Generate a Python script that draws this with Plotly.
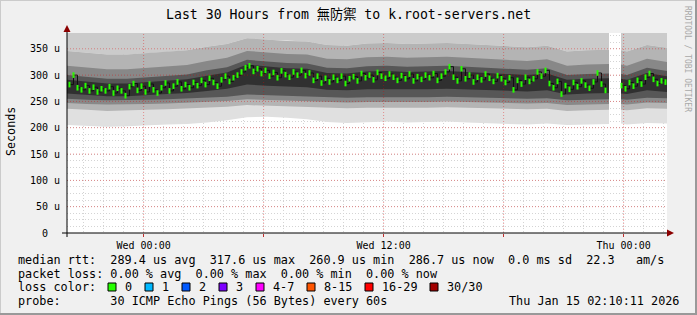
import pandas as pd
import plotly.graph_objects as go

# ---------------- data ----------------
TITLE = "Last 30 Hours from 無防禦 to k.root-servers.net"
END = pd.Timestamp("2026-01-15 02:10:11")
START = END - pd.Timedelta(hours=30)
Y_MAX = 380

# median rtt (microseconds), one value every 12 min (None = no data)
median_us = [
    282, 300, 276, 272, 280, 270, 277, 268, 274, 270,
    278, 266, 275, 270, 260.9, 278, 284, 271, 279, 268,
    283, 272, 266, 276, 285, 270, 279, 287, 274, 282,
    276, 286, 280, 290, 282, 294, 286, 279, 291, 298,
    288, 295, 300, 306, 314, 317.6, 307, 312, 303, 309,
    298, 305, 295, 308, 301, 296, 306, 300, 309, 299,
    304, 290, 298, 285, 294, 287, 296, 290, 298, 284,
    293, 297, 289, 303, 295, 300, 291, 305, 298, 294,
    302, 296, 290, 299, 293, 302, 289, 297, 292, 300,
    295, 303, 290, 298, 306, 316, 296, 289, 312, 293,
    300, 287, 296, 291, 302, 294, 288, 299, 293, 286,
    295, 272, 290, 283, 296, 288, 293, 306, 298, 309,
    284, 276, 288, 264, 280, 273, 286, 278, 289, 281,
    275, 287, 304, 283, 271, None, None, None, 280, 274,
    286, 279, 290, 283, 296, 303, 292, 284, 289, 286.7,
]

# smoke: sorted-ping levels (microseconds) sampled per hour (gap 27.1h-27.7h)
smoke_hours = [0, 1, 2, 3, 4, 5, 6, 7, 8, 9, 10, 11, 12, 13, 14, 15, 16, 17, 18,
               19, 20, 21, 22, 23, 24, 25, 26, 27, 27.1, 27.7, 28, 29, 30]
ping01 = [205, 203, 202, 203, 204, 206, 207, 210, 214, 220, 221, 219, 216, 211, 209, 210, 212,
          210, 211, 212, 210, 208, 207, 206, 208, 205, 206, 207, 207, 208, 206, 209, 208]
ping04 = [236, 234, 232, 233, 234, 235, 236, 238, 240, 243, 242, 241, 240, 238, 237, 238, 239,
          238, 238, 239, 238, 237, 236, 235, 236, 232, 233, 234, 234, 234, 233, 237, 236]
ping08 = [247, 245, 244, 244, 245, 246, 247, 249, 251, 254, 253, 252, 251, 249, 248, 249, 250,
          249, 249, 250, 249, 248, 247, 246, 247, 243, 244, 245, 245, 245, 244, 248, 247]
ping12 = [255, 253, 252, 252, 253, 254, 255, 257, 259, 263, 262, 261, 260, 258, 257, 258, 259,
          258, 258, 259, 258, 257, 256, 255, 256, 252, 253, 254, 254, 254, 253, 257, 256]
ping14 = [265, 262, 260, 260, 262, 264, 266, 270, 274, 282, 280, 278, 277, 272, 271, 273, 274,
          273, 273, 274, 273, 272, 270, 269, 271, 263, 265, 266, 266, 265, 264, 271, 268]
ping17 = [291, 287, 284, 284, 287, 289, 292, 299, 305, 320, 316, 313, 312, 304, 303, 307, 308,
          306, 307, 308, 306, 304, 302, 300, 303, 291, 293, 294, 294, 293, 291, 304, 298]
ping19 = [300, 296, 293, 293, 296, 298, 301, 309, 315, 329, 326, 323, 322, 314, 313, 317, 318,
          316, 317, 318, 316, 314, 312, 310, 313, 300, 302, 303, 303, 302, 300, 314, 308]
ping23 = [318, 314, 311, 311, 314, 316, 319, 327, 333, 346, 343, 340, 339, 331, 330, 334, 335,
          333, 334, 335, 333, 331, 329, 327, 330, 318, 320, 321, 321, 320, 318, 331, 325]
ping27 = [346, 342, 339, 339, 342, 344, 347, 354, 359, 370, 367, 365, 364, 357, 356, 360, 361,
          359, 360, 361, 359, 357, 355, 353, 356, 345, 347, 348, 348, 347, 345, 357, 352]
smoke_segments = [list(range(0, 29)), list(range(29, 33))]

y_tickvals = [0, 50, 100, 150, 200, 250, 300, 350]
y_ticktext = ["0\u00a0\u00a0", "50 u", "100 u", "150 u", "200 u", "250 u", "300 u", "350 u"]
x_tickvals = ["2026-01-14 00:00", "2026-01-14 06:00", "2026-01-14 12:00",
              "2026-01-14 18:00", "2026-01-15 00:00"]
x_ticktext = ["Wed 00:00", "", "Wed 12:00", "", "Thu 00:00"]

loss_labels = ["0", "1", "2", "3", "4-7", "8-15", "16-29", "30/30"]
loss_colors = ["#26ff00", "#00b8ff", "#0059ff", "#7e00ff", "#ff00ff", "#ff5500", "#ff0000", "#a10000"]

stat_rtt = "median rtt:  289.4 us avg  317.6 us max  260.9 us min  286.7 us now  0.0 ms sd  22.3   am/s"
stat_loss = "packet loss: 0.00 % avg  0.00 % max  0.00 % min  0.00 % now"
stat_color = "loss color:"
stat_probe = "probe:       30 ICMP Echo Pings (56 Bytes) every 60s"
stamp = "Thu Jan 15 02:10:11 2026"

# ---------------- layout helpers ----------------
W, H = 697, 315
PL, PR, PT, PB = 67, 667, 33, 233
MONO = "DejaVu Sans Mono, Noto Sans CJK TC, monospace"


def px(x):
    return (x - PL) / (PR - PL)


def py(y):
    return (PB - y) / (PB - PT)


def nb(s):
    return s.replace(" ", "\u00a0")


fig = go.Figure()

smoke_t = [START + pd.Timedelta(hours=h) for h in smoke_hours]
top_level = [Y_MAX + 5 for _ in smoke_hours]
bands = [
    (ping01, ping27, "#e0e0e0"),
    (ping27, top_level, "#cbcbcb"),
    (ping04, ping27, "#b4b4b4"),
    (ping08, ping23, "#888888"),
    (ping12, ping19, "#575757"),
    (ping14, ping17, "#303030"),
]
for lo, up, col in bands:
    for seg in smoke_segments:
        t = [smoke_t[i] for i in seg]
        lo_v = [lo[i] for i in seg]
        up_v = [up[i] for i in seg]
        fig.add_trace(go.Scatter(
            x=t + t[::-1], y=up_v + lo_v[::-1], mode="lines", fill="toself",
            fillcolor=col, line=dict(width=0, color=col), hoverinfo="skip",
            showlegend=False))

med_t = pd.date_range(START + pd.Timedelta(minutes=7.5), periods=len(median_us), freq="12min")
fig.add_trace(go.Scatter(
    x=med_t, y=median_us, mode="lines", line=dict(color="#111111", width=1, shape="hv"),
    connectgaps=False, hoverinfo="skip", showlegend=False))
fig.add_trace(go.Scatter(
    x=med_t, y=median_us, mode="markers",
    marker=dict(symbol="line-ns", size=4, color=loss_colors[0],
                line=dict(width=2, color=loss_colors[0])),
    hoverinfo="skip", showlegend=False))

shapes = []
# major grid (on top of smoke)
MG = "rgba(225,0,0,0.38)"
for tv in x_tickvals:
    shapes.append(dict(type="line", xref="x", yref="paper", x0=tv, x1=tv, y0=0, y1=1,
                       line=dict(color=MG, width=1, dash="1px,2px"), layer="above"))
for yv in y_tickvals[1:]:
    shapes.append(dict(type="line", xref="paper", yref="y", x0=0, x1=1, y0=yv, y1=yv,
                       line=dict(color=MG, width=1, dash="1px,2px"), layer="above"))
# axes lines
shapes.append(dict(type="line", xref="paper", yref="paper", x0=px(62), x1=px(670), y0=0, y1=0,
                   line=dict(color="black", width=1)))
shapes.append(dict(type="line", xref="paper", yref="paper", x0=0, x1=0, y0=py(237), y1=py(30),
                   line=dict(color="black", width=1)))
# arrows
shapes.append(dict(type="path", xref="paper", yref="paper",
                   path=f"M {px(67)} {py(25)} L {px(63.5)} {py(32)} L {px(70.5)} {py(32)} Z",
                   fillcolor="#8b0000", line=dict(width=0)))
shapes.append(dict(type="path", xref="paper", yref="paper",
                   path=f"M {px(674)} {py(233)} L {px(667)} {py(229.5)} L {px(667)} {py(236.5)} Z",
                   fillcolor="#8b0000", line=dict(width=0)))
# frame shading
shapes.append(dict(type="line", xref="paper", yref="paper", x0=px(0), x1=px(697), y0=py(0.5), y1=py(0.5),
                   line=dict(color="#cbcbcb", width=1)))
shapes.append(dict(type="line", xref="paper", yref="paper", x0=px(0.5), x1=px(0.5), y0=py(0), y1=py(315),
                   line=dict(color="#cbcbcb", width=1)))
shapes.append(dict(type="line", xref="paper", yref="paper", x0=px(0), x1=px(697), y0=py(314), y1=py(314),
                   line=dict(color="#999999", width=2)))
shapes.append(dict(type="line", xref="paper", yref="paper", x0=px(696), x1=px(696), y0=py(0), y1=py(315),
                   line=dict(color="#999999", width=2)))

annotations = []


def text(x, y, s, size=11.8, anchor="left", color="black", angle=0):
    annotations.append(dict(xref="paper", yref="paper", x=px(x), y=py(y), text=nb(s),
                            showarrow=False, xanchor=anchor, yanchor="middle", textangle=angle,
                            font=dict(family=MONO, size=size, color=color)))


text(348.5, 14, TITLE, size=13.2, anchor="center")
text(11, 132, "Seconds", size=11.7, anchor="center", angle=-90)
text(688, 59, "RRDTOOL / TOBI OETIKER", size=8, anchor="center", color="#a8a8a8", angle=90)
text(16, 260, stat_rtt)
text(16, 273.5, stat_loss)
text(16, 287, stat_color)
text(16, 301, stat_probe)
text(681, 301, stamp, anchor="right")

bx = 108
for lab, col in zip(loss_labels, loss_colors):
    shapes.append(dict(type="rect", xref="paper", yref="paper", x0=px(bx), x1=px(bx + 8),
                       y0=py(283), y1=py(291), fillcolor=col, line=dict(color="black", width=1)))
    text(bx + 15, 287, lab)
    bx += 37 + 7 * (len(lab) - 1)

fig.update_layout(
    width=W, height=H, margin=dict(l=PL, r=W - PR, t=PT, b=H - PB),
    paper_bgcolor="#f0f0f0", plot_bgcolor="white", showlegend=False,
    shapes=shapes, annotations=annotations,
    xaxis=dict(type="date", range=[START, END], tickmode="array", tickvals=x_tickvals,
               ticktext=x_ticktext, showgrid=False, zeroline=False, showline=False,
               ticks="outside", ticklen=3, tickcolor="#c03030",
               tickfont=dict(family=MONO, size=10, color="black"),
               minor=dict(tick0="2026-01-14 00:00", dtick=3600000, showgrid=True,
                          gridcolor="#d4d4d4", griddash="1px,2px", gridwidth=1)),
    yaxis=dict(range=[0, Y_MAX], tickmode="array", tickvals=y_tickvals, ticktext=y_ticktext,
               showgrid=False, zeroline=False, showline=False, ticks="", ticklabelstandoff=6,
               tickfont=dict(family=MONO, size=10, color="black"),
               minor=dict(tick0=0, dtick=12.5, showgrid=True,
                          gridcolor="#d4d4d4", griddash="1px,2px", gridwidth=1)),
)

fig.write_html("out.html")
